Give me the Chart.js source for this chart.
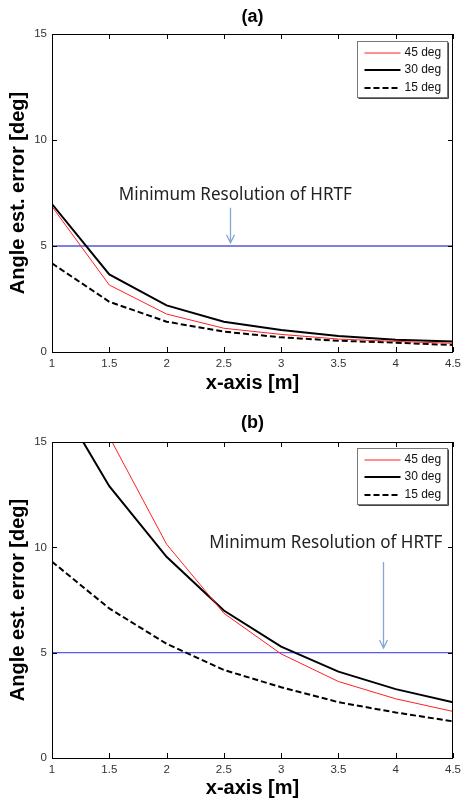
<!DOCTYPE html>
<html>
<head>
<meta charset="utf-8">
<script src="https://cdn.jsdelivr.net/npm/chart.js@4.4.1/dist/chart.umd.min.js"></script>
<style>
  body { margin: 0; background: #fff; }
  .panel { width: 466px; height: 400px; }
</style>
</head>
<body>
<div class="panel"><canvas id="chartA" width="466" height="400"></canvas></div>
<div class="panel"><canvas id="chartB" width="466" height="400"></canvas></div>
<script>
// distances along the x-axis [m]
const distance = [1, 1.5, 2, 2.5, 3, 3.5, 4, 4.5];

// panel (a) angle estimation error [deg]
const errA45 = [6.86, 3.16, 1.79, 1.12, 0.83, 0.61, 0.50, 0.41];
const errA30 = [6.98, 3.66, 2.20, 1.43, 1.04, 0.75, 0.58, 0.49];
const errA15 = [4.18, 2.37, 1.43, 0.96, 0.69, 0.53, 0.44, 0.33];

// panel (b) angle estimation error [deg]
const errB45 = [24.0, 15.25, 10.15, 6.87, 4.94, 3.63, 2.81, 2.21];
const errB30 = [17.5, 12.9, 9.55, 7.00, 5.29, 4.10, 3.27, 2.64];
const errB15 = [9.32, 7.10, 5.42, 4.18, 3.36, 2.65, 2.16, 1.74];

// minimum resolution of HRTF
const hrtfX = [1, 4.5];
const hrtfY = [5, 5];

const seriesLabels = ['45 deg', '30 deg', '15 deg'];
const xTicks = [1, 1.5, 2, 2.5, 3, 3.5, 4, 4.5];
const yTicks = [0, 5, 10, 15];
const noteText = 'Minimum Resolution of HRTF';

function toPoints(xs, ys) {
    return xs.map((x, i) => ({ x: x, y: ys[i] }));
}

// frame, inward ticks, legend box and the HRTF note
const decorPlugin = {
    id: 'decor',
    afterDatasetsDraw(chart, args, opts) {
        const ctx = chart.ctx;
        const a = chart.chartArea;
        const xs = chart.scales.x, ys = chart.scales.y;
        ctx.save();
        ctx.strokeStyle = '#000';
        ctx.lineWidth = 1;
        ctx.strokeRect(Math.round(a.left) + 0.5, Math.round(a.top) + 0.5,
                       Math.round(a.right - a.left) - 1, Math.round(a.bottom - a.top));
        ctx.beginPath();
        xTicks.forEach(v => {
            const px = Math.round(xs.getPixelForValue(v)) + 0.5;
            ctx.moveTo(px, a.bottom); ctx.lineTo(px, a.bottom - 5);
            ctx.moveTo(px, a.top); ctx.lineTo(px, a.top + 5);
        });
        yTicks.forEach(v => {
            const py = Math.round(ys.getPixelForValue(v)) + 0.5;
            ctx.moveTo(a.left, py); ctx.lineTo(a.left + 5, py);
            ctx.moveTo(a.right, py); ctx.lineTo(a.right - 5, py);
        });
        ctx.stroke();

        // note and arrow
        const n = opts.note;
        ctx.fillStyle = '#222';
        ctx.font = '18px "Noto Sans"';
        ctx.textAlign = 'center';
        ctx.textBaseline = 'middle';
        ctx.fillText(noteText, xs.getPixelForValue(n.x), ys.getPixelForValue(n.y), 233);
        const ax = Math.round(xs.getPixelForValue(n.arrowX)) + 0.5;
        const at = ys.getPixelForValue(n.arrowTop);
        const ab = ys.getPixelForValue(n.arrowBottom);
        ctx.strokeStyle = '#86a6d4';
        ctx.lineWidth = 1.3;
        ctx.beginPath();
        ctx.moveTo(ax, at); ctx.lineTo(ax, ab);
        ctx.moveTo(ax - 4, ab - 8); ctx.lineTo(ax, ab); ctx.lineTo(ax + 4, ab - 8);
        ctx.stroke();

        // legend
        const bw = 90, bh = 56;
        const bx = Math.round(a.right - 6 - bw) + 0.5;
        const by = Math.round(a.top + opts.legendTop) + 0.5;
        ctx.fillStyle = '#fff';
        ctx.fillRect(bx, by, bw, bh);
        ctx.strokeStyle = '#777';
        ctx.lineWidth = 1;
        ctx.strokeRect(bx, by, bw, bh);
        ctx.strokeStyle = '#444';
        ctx.beginPath();
        ctx.moveTo(bx + bw + 1, by + 1); ctx.lineTo(bx + bw + 1, by + bh + 1); ctx.lineTo(bx + 1, by + bh + 1);
        ctx.stroke();
        ctx.font = '12px "Liberation Sans"';
        ctx.textAlign = 'left';
        seriesLabels.forEach((lab, i) => {
            const ds = chart.data.datasets[i];
            const ry = Math.round(by + 11 + i * 17.5);
            ctx.strokeStyle = ds.borderColor;
            ctx.lineWidth = ds.borderWidth;
            ctx.setLineDash(ds.borderDash || []);
            ctx.beginPath();
            ctx.moveTo(bx + 7, ry); ctx.lineTo(bx + 43, ry);
            ctx.stroke();
            ctx.setLineDash([]);
            ctx.fillStyle = '#111';
            ctx.fillText(lab, bx + 47, ry);
        });
        ctx.restore();
    }
};

function makeChart(id, title, s45, s30, s15, hrtfColor, geo, note) {
    const ctx = document.getElementById(id).getContext('2d');
    return new Chart(ctx, {
        type: 'line',
        data: {
            datasets: [{
                label: seriesLabels[0],
                data: toPoints(distance, s45),
                borderColor: '#ff2020',
                borderWidth: 1,
                pointRadius: 0,
                tension: 0
            }, {
                label: seriesLabels[1],
                data: toPoints(distance, s30),
                borderColor: '#000',
                borderWidth: 2,
                pointRadius: 0,
                tension: 0
            }, {
                label: seriesLabels[2],
                data: toPoints(distance, s15),
                borderColor: '#000',
                borderWidth: 2,
                borderDash: [6, 3],
                pointRadius: 0,
                tension: 0
            }, {
                label: 'HRTF',
                data: toPoints(hrtfX, hrtfY),
                borderColor: hrtfColor,
                borderWidth: 1.2,
                pointRadius: 0
            }]
        },
        options: {
            responsive: false,
            animation: false,
            layout: { padding: { left: 6, right: 7, top: 0, bottom: 0 } },
            plugins: {
                legend: { display: false },
                tooltip: { enabled: false },
                title: {
                    display: true,
                    text: title,
                    fullSize: false,
                    color: '#000',
                    font: { family: 'Liberation Sans', size: 18, weight: 'bold' },
                    padding: { top: geo.titleTop, bottom: geo.titleBottom }
                },
                decor: { note: note, legendTop: geo.legendTop }
            },
            scales: {
                x: {
                    type: 'linear',
                    min: 1, max: 4.5,
                    afterBuildTicks: s => { s.ticks = xTicks.map(v => ({ value: v })); },
                    afterFit: s => { s.height = geo.xHeight; },
                    grid: { display: false, drawTicks: false },
                    border: { display: false },
                    ticks: {
                        color: '#333', padding: 5,
                        maxRotation: 0, autoSkip: false,
                        callback: v => String(v),
                        font: { family: 'Liberation Sans', size: 11.5 }
                    },
                    title: {
                        display: true, text: 'x-axis [m]', color: '#000',
                        font: { family: 'Liberation Sans', size: 20, weight: 'bold' },
                        padding: { top: 0, bottom: geo.xTitlePad }
                    }
                },
                y: {
                    type: 'linear',
                    min: 0, max: 15,
                    afterBuildTicks: s => { s.ticks = yTicks.map(v => ({ value: v })); },
                    afterFit: s => { s.width = 46; },
                    grid: { display: false, drawTicks: false },
                    border: { display: false },
                    ticks: {
                        color: '#333', padding: 5,
                        callback: v => String(v),
                        font: { family: 'Liberation Sans', size: 11.5 }
                    },
                    title: {
                        display: true, text: 'Angle est. error [deg]', color: '#000',
                        font: { family: 'Liberation Sans', size: 20, weight: 'bold' },
                        padding: 0
                    }
                }
            }
        },
        plugins: [decorPlugin]
    });
}

makeChart('chartA', '(a)', errA45, errA30, errA15, '#0000cc',
    { titleTop: 6, titleBottom: 6.4, xHeight: 48, xTitlePad: 5, legendTop: 7 },
    { x: 2.6, y: 7.4, arrowX: 2.55, arrowTop: 6.8, arrowBottom: 5.15 });

makeChart('chartB', '(b)', errB45, errB30, errB15, '#5a5af0',
    { titleTop: 12, titleBottom: 8.4, xHeight: 42, xTitlePad: 0, legendTop: 6 },
    { x: 3.39, y: 10.22, arrowX: 3.89, arrowTop: 9.3, arrowBottom: 5.22 });
</script>
</body>
</html>
